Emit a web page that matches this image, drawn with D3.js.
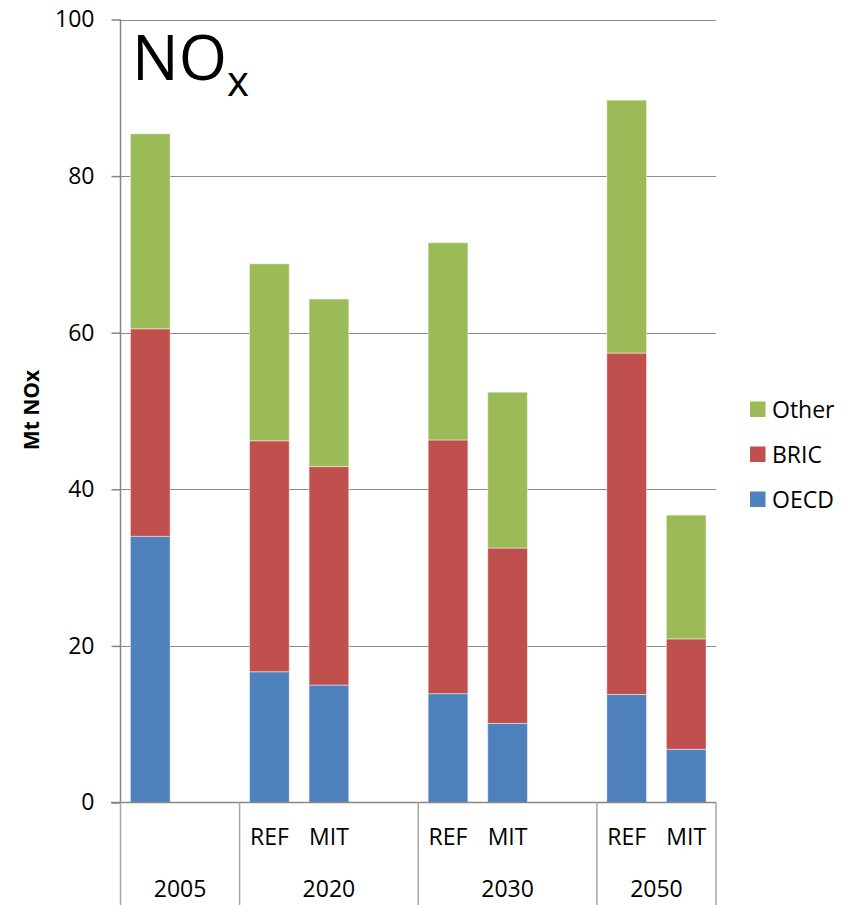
<!DOCTYPE html>
<html>
<head>
<meta charset="utf-8">
<script src="https://cdn.jsdelivr.net/npm/d3@7"></script>
<style>
  html, body { margin: 0; padding: 0; background: #fff; }
  svg { display: block; font-family: "Open Sans", "Noto Sans", sans-serif; }
</style>
</head>
<body>
<svg id="chart" width="849" height="905"></svg>
<script>
// Category slots: year group + scenario (blank slots keep space between groups)
const catYear = ["2005", "2005", "2020", "2020", "2020", "2030", "2030", "2030", "2050", "2050"];
const catScen = ["", "", "REF", "MIT", "", "REF", "MIT", "", "REF", "MIT"];

// NOx emissions by region, Mt (null = empty slot)
const oecd  = [34.0, null, 16.7, 15.0, null, 13.9, 10.1, null, 13.8, 6.8];
const bric  = [26.5, null, 29.5, 27.9, null, 32.4, 22.4, null, 43.6, 14.1];
const other = [24.9, null, 22.6, 21.4, null, 25.2, 19.9, null, 32.3, 15.8];

const seriesNames = ["OECD", "BRIC", "Other"];
const seriesColors = ["#4F81BD", "#C0504D", "#9BBB59"];
const yTicks = [0, 20, 40, 60, 80, 100];

const svg = d3.select("#chart");
const plotLeft = 120.5, plotRight = 716, plotTop = 19.5, plotBottom = 802.5;

const rows = catYear.map((yr, i) => ({
  i, year: yr, scen: catScen[i],
  OECD: oecd[i], BRIC: bric[i], Other: other[i]
}));

const x = d3.scaleBand()
  .domain(rows.map(d => d.i))
  .range([plotLeft, plotRight])
  .paddingInner(1 / 3)
  .paddingOuter(1 / 6);

const y = d3.scaleLinear().domain([0, 100]).range([plotBottom, plotTop]);

// Horizontal gridlines
svg.append("g")
  .selectAll("line")
  .data(yTicks.filter(t => t > 0))
  .join("line")
  .attr("x1", plotLeft).attr("x2", plotRight)
  .attr("y1", d => Math.round(y(d)) + 0.5).attr("y2", d => Math.round(y(d)) + 0.5)
  .attr("stroke", "#8c8c8c").attr("stroke-width", 1);

// Stacked bars
const stack = d3.stack().keys(seriesNames).value((d, k) => d[k] == null ? 0 : d[k]);
const layers = stack(rows.filter(d => d.OECD != null));

svg.append("g")
  .selectAll("g")
  .data(layers)
  .join("g")
  .attr("fill", (d, i) => seriesColors[i])
  .selectAll("rect")
  .data(d => d)
  .join("rect")
  .attr("x", d => x(d.data.i))
  .attr("width", x.bandwidth())
  .attr("y", d => y(d[1]))
  .attr("height", d => y(d[0]) - y(d[1]))
  .attr("stroke", "rgba(255,255,255,0.45)")
  .attr("stroke-width", 1);

// Y axis
const yAxis = d3.axisLeft(y)
  .tickValues(yTicks)
  .tickSize(9)
  .tickPadding(17)
  .tickFormat(d3.format("d"));

const gy = svg.append("g")
  .attr("transform", `translate(${plotLeft},0)`)
  .call(yAxis);
gy.select(".domain").attr("stroke", "#868686").attr("stroke-width", 1.5)
  .attr("d", `M0,${plotTop}V${plotBottom}`);
gy.selectAll(".tick line").attr("stroke", "#868686").attr("stroke-width", 1.5);
gy.selectAll(".tick text")
  .attr("fill", "#000")
  .style("font-size", "23px")
  .style("font-family", "'Open Sans', sans-serif");

// Baseline (category axis)
svg.append("line")
  .attr("x1", 111).attr("x2", plotRight)
  .attr("y1", plotBottom).attr("y2", plotBottom)
  .attr("stroke", "#868686").attr("stroke-width", 1.5);

// Group dividers in the category area
const groups = [];
rows.forEach((d, i) => {
  if (i === 0 || d.year !== rows[i - 1].year) groups.push({ year: d.year, start: i, end: i });
  else groups[groups.length - 1].end = i;
});
const step = x.step();
const edge = i => plotLeft + step * i;
const dividers = [0].concat(groups.map(g => g.end + 1));

svg.append("g")
  .selectAll("line")
  .data(dividers)
  .join("line")
  .attr("x1", d => edge(d)).attr("x2", d => edge(d))
  .attr("y1", plotBottom).attr("y2", 905)
  .attr("stroke", "#a6a6a6").attr("stroke-width", 1.5);

// Scenario labels
svg.append("g")
  .selectAll("text")
  .data(rows.filter(d => d.scen))
  .join("text")
  .attr("x", d => x(d.i) + x.bandwidth() / 2)
  .attr("y", 845)
  .attr("text-anchor", "middle")
  .style("font-size", "23px")
  .text(d => d.scen);

// Year labels
svg.append("g")
  .selectAll("text")
  .data(groups)
  .join("text")
  .attr("x", g => (edge(g.start) + edge(g.end + 1)) / 2)
  .attr("y", 896.5)
  .attr("text-anchor", "middle")
  .style("font-size", "23px")
  .text(g => g.year);

// Y axis title
svg.append("text")
  .attr("transform", "translate(38.5,410) rotate(-90)")
  .attr("text-anchor", "middle")
  .style("font-size", "21px")
  .style("font-weight", "bold")
  .text("Mt NOx");

// Chart title with subscript
const title = svg.append("text")
  .attr("x", 132).attr("y", 80)
  .style("font-size", "62px");
title.append("tspan").text("NO");
title.append("tspan").attr("dy", 16).style("font-size", "42px").text("x");

// Legend (top entry is last series)
const legend = svg.append("g")
  .selectAll("g")
  .data(seriesNames.map((n, i) => ({ n, c: seriesColors[i], i })).reverse())
  .join("g")
  .attr("transform", (d, k) => `translate(750,${401.5 + k * 45})`);
legend.append("rect").attr("width", 15.5).attr("height", 15.5).attr("fill", d => d.c);
legend.append("text")
  .attr("x", 22).attr("y", 16.5)
  .style("font-size", "23px")
  .text(d => d.n);
</script>
</body>
</html>
